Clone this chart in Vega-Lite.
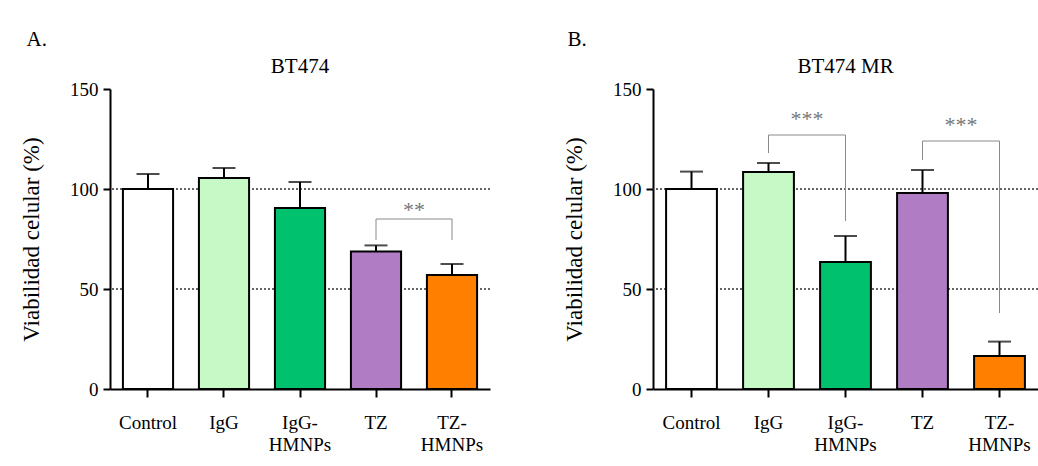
{
  "$schema": "https://vega.github.io/schema/vega-lite/v6.json",
  "padding": {"left": 20, "top": 29, "right": 0, "bottom": 0},
  "background": "white",
  "datasets": {
    "bars": [
      {"panel": "A", "cond": "Control", "mean": 100, "upper": 107.5},
      {"panel": "A", "cond": "IgG", "mean": 105.5, "upper": 110.5},
      {"panel": "A", "cond": "IgG-HMNPs", "mean": 90.5, "upper": 103.5},
      {"panel": "A", "cond": "TZ", "mean": 68.8, "upper": 71.8},
      {"panel": "A", "cond": "TZ-HMNPs", "mean": 57, "upper": 62.5},
      {"panel": "B", "cond": "Control", "mean": 100, "upper": 108.7},
      {"panel": "B", "cond": "IgG", "mean": 108.5, "upper": 113},
      {"panel": "B", "cond": "IgG-HMNPs", "mean": 63.5, "upper": 76.5},
      {"panel": "B", "cond": "TZ", "mean": 98, "upper": 109.5},
      {"panel": "B", "cond": "TZ-HMNPs", "mean": 16.5, "upper": 23.7}
    ],
    "grid": [{"g": 50}, {"g": 100}],
    "hbr": [
      {"panel": "A", "x1": "TZ", "x2": "TZ-HMNPs", "y": 85, "stars": "**", "ty": 86},
      {"panel": "B", "x1": "IgG", "x2": "IgG-HMNPs", "y": 127, "stars": "***", "ty": 131.5},
      {"panel": "B", "x1": "TZ", "x2": "TZ-HMNPs", "y": 124, "stars": "***", "ty": 128.5}
    ],
    "legs": [
      {"panel": "A", "x": "TZ", "y": 74.5, "y2": 85},
      {"panel": "A", "x": "TZ-HMNPs", "y": 74.5, "y2": 85},
      {"panel": "B", "x": "IgG", "y": 118, "y2": 127},
      {"panel": "B", "x": "IgG-HMNPs", "y": 84, "y2": 127},
      {"panel": "B", "x": "TZ", "y": 114.5, "y2": 124},
      {"panel": "B", "x": "TZ-HMNPs", "y": 38, "y2": 124}
    ]
  },
  "hconcat": [
    {
      "title": {"text": "A.", "anchor": "start", "offset": 6, "fontSize": 21, "dx": 6},
      "vconcat": [
        {
          "title": {"text": "BT474", "fontSize": 21, "offset": 3},
          "width": 380,
          "height": 300,
          "layer": [
            {
              "data": {"name": "grid"},
              "mark": {"type": "rule", "strokeDash": [2, 2], "color": "#333333", "strokeWidth": 1.5},
              "encoding": {"y": {"field": "g", "type": "quantitative", "title": "Viabilidad celular (%)", "scale": {"domain": [0, 150], "nice": false}, "axis": {"values": [0, 50, 100, 150]}}}
            },
            {
              "data": {"name": "bars"},
              "transform": [{"filter": "datum.panel == 'A'"}],
              "layer": [
                {
                  "mark": {"type": "bar", "stroke": "black", "strokeWidth": 2},
                  "encoding": {
                    "x": {"field": "cond", "type": "nominal", "title": null, "scale": {"domain": ["Control", "IgG", "IgG-HMNPs", "TZ", "TZ-HMNPs"], "paddingInner": 0.34, "paddingOuter": 0.17}},
                    "y": {"field": "mean", "type": "quantitative", "title": "Viabilidad celular (%)", "scale": {"domain": [0, 150], "nice": false}},
                    "fill": {"field": "cond", "type": "nominal", "scale": {"domain": ["Control", "IgG", "IgG-HMNPs", "TZ", "TZ-HMNPs"], "range": ["#ffffff", "#c6f9c6", "#00c16e", "#b07dc4", "#ff8000"]}, "legend": null}
                  }
                },
                {
                  "mark": {"type": "rule", "color": "black", "strokeWidth": 2},
                  "encoding": {
                    "x": {"field": "cond", "type": "nominal", "title": null},
                    "y": {"field": "mean", "type": "quantitative", "title": "Viabilidad celular (%)", "scale": {"domain": [0, 150], "nice": false}},
                    "y2": {"field": "upper"}
                  }
                },
                {
                  "mark": {"type": "tick", "color": "black", "size": 23, "thickness": 2, "orient": "horizontal"},
                  "encoding": {
                    "x": {"field": "cond", "type": "nominal", "title": null},
                    "y": {"field": "upper", "type": "quantitative", "title": "Viabilidad celular (%)", "scale": {"domain": [0, 150], "nice": false}}
                  }
                }
              ]
            },
            {
              "data": {"name": "legs"},
              "transform": [{"filter": "datum.panel == 'A'"}],
              "mark": {"type": "rule", "color": "#8a8a8a", "strokeWidth": 1},
              "encoding": {
                "x": {"field": "x", "type": "nominal", "title": null},
                "y": {"field": "y", "type": "quantitative", "title": "Viabilidad celular (%)", "scale": {"domain": [0, 150], "nice": false}},
                "y2": {"field": "y2"}
              }
            },
            {
              "data": {"name": "hbr"},
              "transform": [{"filter": "datum.panel == 'A'"}],
              "layer": [
                {
                  "mark": {"type": "rule", "color": "#8a8a8a", "strokeWidth": 1},
                  "encoding": {
                    "x": {"field": "x1", "type": "nominal", "title": null},
                    "x2": {"field": "x2"},
                    "y": {"field": "y", "type": "quantitative", "title": "Viabilidad celular (%)", "scale": {"domain": [0, 150], "nice": false}}
                  }
                },
                {
                  "mark": {"type": "text", "color": "#777777", "fontSize": 22, "baseline": "alphabetic", "align": "center", "font": "Liberation Serif"},
                  "encoding": {
                    "x": {"field": "x1", "type": "nominal", "title": null, "bandPosition": 1.258},
                    "y": {"field": "ty", "type": "quantitative", "title": "Viabilidad celular (%)", "scale": {"domain": [0, 150], "nice": false}},
                    "text": {"field": "stars"}
                  }
                }
              ]
            }
          ]
        }
      ]
    },
    {
      "title": {"text": "B.", "anchor": "start", "offset": 6, "fontSize": 21, "dx": 4},
      "vconcat": [
        {
          "title": {"text": "BT474 MR", "fontSize": 21, "offset": 3},
          "width": 385,
          "height": 300,
          "layer": [
            {
              "data": {"name": "grid"},
              "mark": {"type": "rule", "strokeDash": [2, 2], "color": "#333333", "strokeWidth": 1.5},
              "encoding": {"y": {"field": "g", "type": "quantitative", "title": "Viabilidad celular (%)", "scale": {"domain": [0, 150], "nice": false}, "axis": {"values": [0, 50, 100, 150]}}}
            },
            {
              "data": {"name": "bars"},
              "transform": [{"filter": "datum.panel == 'B'"}],
              "layer": [
                {
                  "mark": {"type": "bar", "stroke": "black", "strokeWidth": 2},
                  "encoding": {
                    "x": {"field": "cond", "type": "nominal", "title": null, "scale": {"domain": ["Control", "IgG", "IgG-HMNPs", "TZ", "TZ-HMNPs"], "paddingInner": 0.34, "paddingOuter": 0.17}},
                    "y": {"field": "mean", "type": "quantitative", "title": "Viabilidad celular (%)", "scale": {"domain": [0, 150], "nice": false}},
                    "fill": {"field": "cond", "type": "nominal", "scale": {"domain": ["Control", "IgG", "IgG-HMNPs", "TZ", "TZ-HMNPs"], "range": ["#ffffff", "#c6f9c6", "#00c16e", "#b07dc4", "#ff8000"]}, "legend": null}
                  }
                },
                {
                  "mark": {"type": "rule", "color": "black", "strokeWidth": 2},
                  "encoding": {
                    "x": {"field": "cond", "type": "nominal", "title": null},
                    "y": {"field": "mean", "type": "quantitative", "title": "Viabilidad celular (%)", "scale": {"domain": [0, 150], "nice": false}},
                    "y2": {"field": "upper"}
                  }
                },
                {
                  "mark": {"type": "tick", "color": "black", "size": 23, "thickness": 2, "orient": "horizontal"},
                  "encoding": {
                    "x": {"field": "cond", "type": "nominal", "title": null},
                    "y": {"field": "upper", "type": "quantitative", "title": "Viabilidad celular (%)", "scale": {"domain": [0, 150], "nice": false}}
                  }
                }
              ]
            },
            {
              "data": {"name": "legs"},
              "transform": [{"filter": "datum.panel == 'B'"}],
              "mark": {"type": "rule", "color": "#8a8a8a", "strokeWidth": 1},
              "encoding": {
                "x": {"field": "x", "type": "nominal", "title": null},
                "y": {"field": "y", "type": "quantitative", "title": "Viabilidad celular (%)", "scale": {"domain": [0, 150], "nice": false}},
                "y2": {"field": "y2"}
              }
            },
            {
              "data": {"name": "hbr"},
              "transform": [{"filter": "datum.panel == 'B'"}],
              "layer": [
                {
                  "mark": {"type": "rule", "color": "#8a8a8a", "strokeWidth": 1},
                  "encoding": {
                    "x": {"field": "x1", "type": "nominal", "title": null},
                    "x2": {"field": "x2"},
                    "y": {"field": "y", "type": "quantitative", "title": "Viabilidad celular (%)", "scale": {"domain": [0, 150], "nice": false}}
                  }
                },
                {
                  "mark": {"type": "text", "color": "#777777", "fontSize": 22, "baseline": "alphabetic", "align": "center", "font": "Liberation Serif"},
                  "encoding": {
                    "x": {"field": "x1", "type": "nominal", "title": null, "bandPosition": 1.258},
                    "y": {"field": "ty", "type": "quantitative", "title": "Viabilidad celular (%)", "scale": {"domain": [0, 150], "nice": false}},
                    "text": {"field": "stars"}
                  }
                }
              ]
            }
          ]
        }
      ]
    }
  ],
  "spacing": 72,
  "resolve": {"scale": {"x": "independent", "y": "independent", "fill": "independent"}},
  "config": {
    "font": "Liberation Serif",
    "view": {"stroke": null},
    "title": {"font": "Liberation Serif", "fontWeight": "normal", "color": "black", "fontSize": 21},
    "axis": {
      "labelFont": "Liberation Serif",
      "labelFontSize": 19,
      "labelColor": "black",
      "titleFont": "Liberation Serif",
      "titleFontSize": 23,
      "titleFontWeight": "normal",
      "titleColor": "black",
      "domainColor": "black",
      "domainWidth": 2,
      "tickColor": "black",
      "tickWidth": 2,
      "grid": false
    },
    "axisY": {"tickSize": 7, "labelPadding": 5, "titlePadding": 26},
    "axisX": {
      "tickSize": 8,
      "labelPadding": 16,
      "labelAngle": 0,
      "labelLineHeight": 22,
      "labelExpr": "indexof(datum.label, '-') > 0 ? [slice(datum.label, 0, indexof(datum.label, '-') + 1), slice(datum.label, indexof(datum.label, '-') + 1)] : datum.label"
    }
  }
}
